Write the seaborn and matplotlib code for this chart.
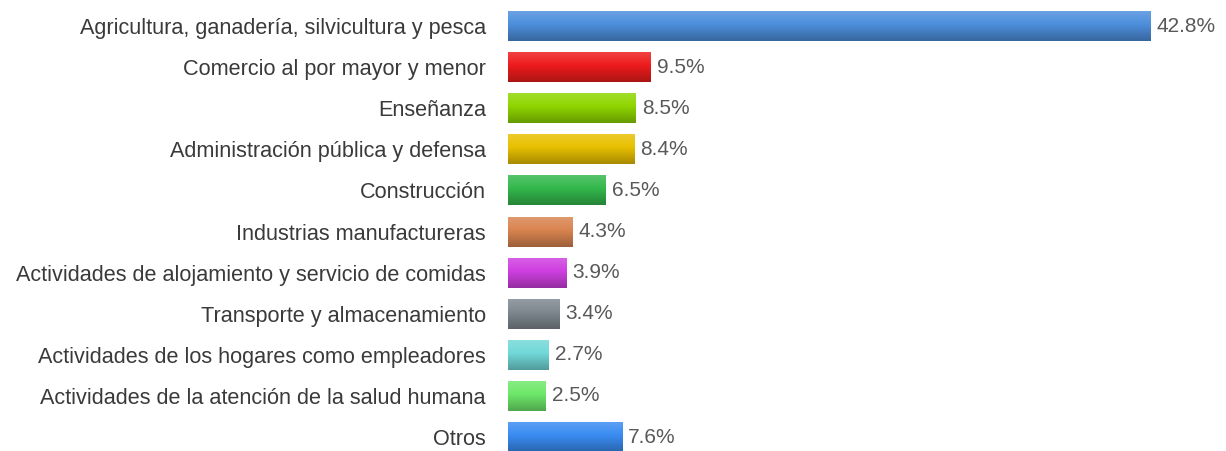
import numpy as np
import pandas as pd
import matplotlib
matplotlib.use("Agg")
import matplotlib.pyplot as plt
import seaborn as sns
from matplotlib.colors import to_rgb

sectores = [
    "Agricultura, ganadería, silvicultura y pesca",
    "Comercio al por mayor y menor",
    "Enseñanza",
    "Administración pública y defensa",
    "Construcción",
    "Industrias manufactureras",
    "Actividades de alojamiento y servicio de comidas",
    "Transporte y almacenamiento",
    "Actividades de los hogares como empleadores",
    "Actividades de la atención de la salud humana",
    "Otros",
]
porcentajes = [42.8, 9.5, 8.5, 8.4, 6.5, 4.3, 3.9, 3.4, 2.7, 2.5, 7.6]
colores = ["#4d8fdc", "#ee1c1c", "#8fd600", "#e8c000", "#34b84c", "#d98450",
           "#cf3fe0", "#7f8890", "#72d8d8", "#6ee86a", "#3a8cf2"]

sns.set_theme(style="white")
plt.rcParams["font.family"] = ["Liberation Sans", "DejaVu Sans"]

df = pd.DataFrame({"sector": sectores, "pct": porcentajes})

fig = plt.figure(figsize=(12.26, 4.51), dpi=100)
ax = fig.add_axes([508 / 1226, 0, 718 / 1226, 1])
sns.barplot(data=df, x="pct", y="sector", hue="sector", palette=colores,
            legend=False, width=0.73, ax=ax, saturation=1)

# Vertical shading on each bar: lighter top, darker bottom
for patch, c in zip(ax.patches, colores):
    x0, y0 = patch.get_x(), patch.get_y()
    w, h = patch.get_width(), patch.get_height()
    base = np.array(to_rgb(c))
    t = np.linspace(0, 1, 64)[:, None]
    light = np.clip(base + 0.18 * (1 - base), 0, 1)
    dark = base * 0.72
    grad = np.where(t < 0.45, light + (base - light) * (t / 0.45),
                    base + (dark - base) * ((t - 0.45) / 0.55))
    img = np.repeat(grad[:, None, :], 2, axis=1)
    im = ax.imshow(img, extent=[x0, x0 + w, y0 + h, y0], aspect="auto",
                   zorder=patch.get_zorder() + 0.1, interpolation="bilinear")
    im.set_clip_path(patch)
    ax.text(x0 + w + 0.4, y0 + h / 2, f"{w:.1f}%", va="center", ha="left",
            fontsize=15, color="#595959")

ax.set_xlim(0, 718 / 15.02)
ax.set_ylim(10.34, -0.633)
ax.set_xlabel("")
ax.set_ylabel("")
ax.set_xticks([])
ax.tick_params(axis="y", length=0, pad=16, labelsize=15.6, labelcolor="#3a3a3a")
for s in ax.spines.values():
    s.set_visible(False)

fig.savefig("out.png", dpi=100)
